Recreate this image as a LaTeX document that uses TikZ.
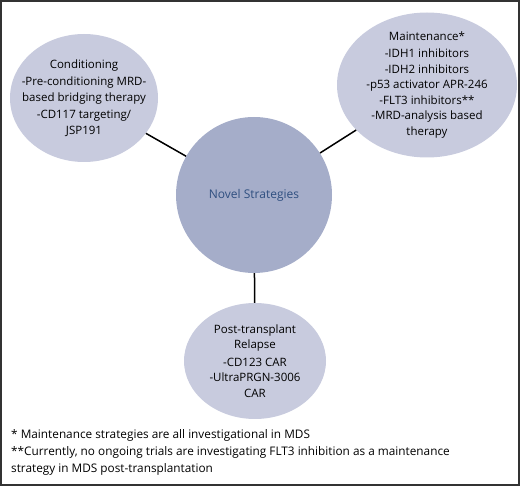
\documentclass[tikz,border=0pt]{standalone}
\usepackage{fontspec}
\setmainfont{Open Sans}
\usetikzlibrary{shapes.geometric}
\definecolor{outerfill}{HTML}{C8CBDE}
\definecolor{centerfill}{HTML}{A5ADC9}
\definecolor{centertext}{HTML}{2F4F80}
\definecolor{framegray}{HTML}{333333}

\begin{document}
\begin{tikzpicture}[x=1pt, y=-1pt]
        \tikzstyle{topic} = [ellipse, inner xsep=-18pt, inner ysep=-14pt, align=center, fill=outerfill, font=\fontsize{11.5}{15.5}\selectfont]
        \tikzstyle{hub} = [circle, inner sep=0pt, minimum size=156pt, fill=centerfill, text=centertext, font=\fontsize{12}{14}\selectfont]
        \tikzstyle{note} = [anchor=north west, inner sep=0pt, align=left, font=\fontsize{11.8}{16.5}\selectfont]
        % frame
        \draw [framegray, line width=2pt] (1,1) rectangle (519,485);
        \node (novel) [hub] at (254,195) {Novel Strategies};
        \node (cond) [topic, minimum width=148pt, minimum height=128pt] at (84,98)
            {Conditioning\\[2pt] -Pre-conditioning MRD-\\ based bridging therapy\\[2pt] -CD117 targeting/\\ JSP191};
        \node (maint) [topic, minimum width=180pt, minimum height=145pt] at (427,85)
            {Maintenance*\\[2pt] -IDH1 inhibitors\\ -IDH2 inhibitors\\ -p53 activator APR-246\\ -FLT3 inhibitors**\\ -MRD-analysis based\\ therapy};
        \node (relapse) [topic, minimum width=142pt, minimum height=116pt] at (255,361)
            {Post-transplant\\ Relapse\\[2pt] -CD123 CAR\\ -UltraPRGN-3006\\ CAR};
        \draw [line width=1.5pt] (cond) -- (novel);
        \draw [line width=1.5pt] (maint) -- (novel);
        \draw [line width=1.5pt] (novel) -- (relapse);
        \node (notes) [note] at (11,429)
            {* Maintenance strategies are all investigational in MDS\\[1pt]
             **Currently, no ongoing trials are investigating FLT3 inhibition as a maintenance\\
             strategy in MDS post-transplantation};
    \end{tikzpicture}
\end{document}
